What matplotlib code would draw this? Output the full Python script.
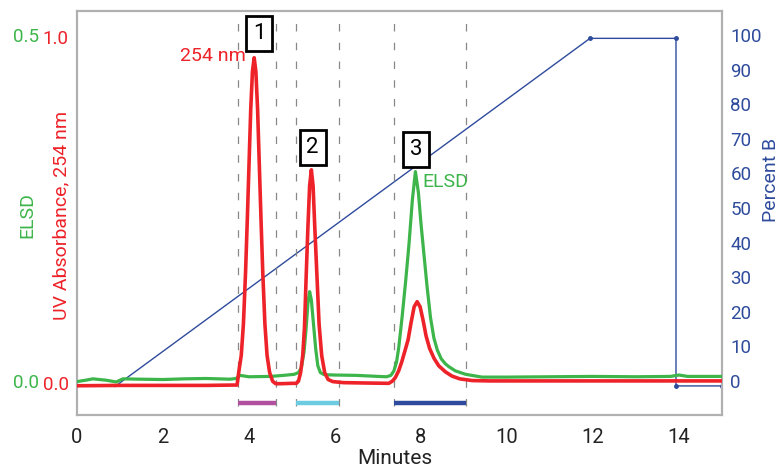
import matplotlib
matplotlib.use("Agg")
import matplotlib.pyplot as plt

plt.rcParams['font.family'] = ['Roboto', 'DejaVu Sans']

RED = '#ee2229'
GREEN = '#3db54a'
BLUE = '#2e4b9c'

# UV 254 nm trace (minutes, absorbance)
uv_t = [0, 1, 2, 3, 3.6, 3.72, 3.74, 3.76, 3.82, 3.87, 3.92, 3.96, 4.00, 4.04, 4.08, 4.12,
        4.16, 4.20, 4.24, 4.28, 4.32, 4.37, 4.42, 4.48, 4.55, 4.62, 4.75, 5.0,
        5.10, 5.15, 5.20, 5.25, 5.29, 5.33, 5.37, 5.41, 5.45, 5.49, 5.53, 5.58, 5.63,
        5.69, 5.76, 5.84, 5.95, 6.2, 6.7, 7.25,
        7.33, 7.40, 7.48, 7.55, 7.62, 7.70, 7.77, 7.84, 7.91, 7.98, 8.05, 8.12, 8.20,
        8.30, 8.41, 8.57, 8.72, 8.90, 9.19, 9.6, 11, 13, 15]
uv_v = [-0.008, -0.007, -0.007, -0.007, -0.006, -0.006, 0.01, 0.03, 0.08, 0.17, 0.32, 0.47, 0.63, 0.79, 0.90, 0.94,
        0.90, 0.79, 0.63, 0.47, 0.32, 0.17, 0.08, 0.03, 0.005, -0.002, -0.002, -0.001,
        -0.001, 0.005, 0.03, 0.08, 0.16, 0.31, 0.45, 0.57, 0.616, 0.57, 0.45, 0.31, 0.17,
        0.08, 0.03, 0.01, 0.004, 0.001, 0.0, -0.001,
        0.005, 0.015, 0.035, 0.06, 0.09, 0.125, 0.175, 0.22, 0.235, 0.22, 0.18, 0.135, 0.10,
        0.072, 0.05, 0.032, 0.02, 0.012, 0.007, 0.006, 0.006, 0.006, 0.006]

# ELSD trace (minutes, ELSD units; plotted against the 0-0.5 scale)
elsd_t = [0, 0.2, 0.37, 0.68, 0.91, 1.07, 1.46, 2.0, 2.5, 3.0, 3.56, 3.70, 3.79, 4.0, 4.5, 4.8,
          5.05, 5.15, 5.22, 5.28, 5.33, 5.37, 5.41, 5.45, 5.50, 5.55, 5.60, 5.66, 5.75,
          6.0, 6.5, 7.0, 7.2, 7.30, 7.37, 7.43, 7.48, 7.56, 7.64, 7.72, 7.80, 7.87, 7.94,
          8.00, 8.07, 8.14, 8.22, 8.30, 8.38, 8.47, 8.57, 8.65, 8.8, 9.04, 9.42, 10, 11,
          12, 13, 13.8, 14.0, 14.2, 15]
elsd_v = [0.002, 0.004, 0.006, 0.004, 0.0015, 0.006, 0.0055, 0.005, 0.006, 0.0065, 0.0055, 0.0065, 0.011, 0.009, 0.0095, 0.011,
          0.0125, 0.015, 0.0225, 0.045, 0.08, 0.115, 0.132, 0.12, 0.085, 0.05, 0.025, 0.015, 0.012,
          0.0115, 0.011, 0.0095, 0.009, 0.011, 0.0175, 0.03, 0.05, 0.095, 0.145, 0.20, 0.265, 0.3055, 0.275,
          0.23, 0.185, 0.14, 0.095, 0.065, 0.0475, 0.035, 0.0275, 0.0235, 0.0175, 0.0125, 0.0085, 0.0085, 0.009,
          0.0095, 0.009, 0.0095, 0.0115, 0.0095, 0.0095]

# gradient program (minutes, %B)
grad_t = [0.88, 11.93, 13.93, 13.93, 15]
grad_b = [-1.6, 99, 99, -1.4, -1.4]

# fraction windows
frac_start = [3.75, 5.09, 7.38]
frac_end = [4.62, 6.10, 9.04]
frac_colors = ['#b0509f', '#6ccbe0', '#2e4a9c']

peak_labels = ['1', '2', '3']
peak_t = [4.24, 5.48, 7.89]
peak_v = [1.01, 0.681, 0.675]

fig = plt.figure(figsize=(7.82, 4.69), dpi=100)
ax = fig.add_axes([77/782, 1 - 415/469, (722 - 77)/782, (415 - 11)/469])
ax2 = ax.twinx()
ax.set_zorder(ax2.get_zorder() + 1)
ax.patch.set_visible(False)

# dashed fraction boundaries and collection bars
for s, e, c in zip(frac_start, frac_end, frac_colors):
    for x in (s, e):
        ax.plot([x, x], [-0.066, 1.04], color='#888888', lw=0.9, dashes=(6, 9), zorder=1)
    ax.plot([s, e], [-0.058, -0.058], color=c, lw=3.2, solid_capstyle='butt', zorder=2)

ax.plot(elsd_t, [v * 2 for v in elsd_v], color=GREEN, lw=2.3, zorder=3)
ax.plot(uv_t, uv_v, color=RED, lw=2.6, zorder=4)

ax2.plot(grad_t, grad_b, color=BLUE, lw=1.0)
ax2.plot(grad_t[1:], grad_b[1:], 'o', color=BLUE, ms=2.5)

for lab, x, y in zip(peak_labels, peak_t, peak_v):
    ax.text(x, y, lab, fontsize=16, ha='center', va='center', zorder=6,
            bbox=dict(boxstyle='square,pad=0.3', fc='white', ec='black', lw=2))

ax.text(3.92, 0.945, '254 nm', color=RED, fontsize=14, ha='right', va='center')
ax.text(8.04, 0.58, 'ELSD', color=GREEN, fontsize=14, ha='left', va='center')

ax.set_xlim(0, 15)
ax.set_ylim(-0.0925, 1.075)
ax2.set_ylim(-9.8, 106.9)

ax.set_xticks(range(0, 15, 2))
ax.tick_params(axis='x', length=0, pad=9, labelsize=14.5, labelcolor='#222222')
ax.set_yticks([0, 1])
ax.set_yticklabels(['0.0', '1.0'])
ax.tick_params(axis='y', length=0, pad=6, labelsize=13.5, labelcolor=RED)
ax2.set_yticks(range(0, 101, 10))
ax2.tick_params(axis='y', length=0, pad=6, labelsize=13.5, labelcolor=BLUE)

for yv, lab in ((0, '0.0'), (1, '0.5')):
    ax.annotate(lab, xy=(0, yv), xycoords=('axes fraction', 'data'),
                xytext=(-27.5, 0), textcoords='offset points',
                ha='right', va='center', fontsize=13.5, color=GREEN)

for a in (ax, ax2):
    for sp in a.spines.values():
        sp.set_color('#b0b0b0')
        sp.set_linewidth(1.5)

fig.text(61/782, 1 - 215/469, 'UV Absorbance, 254 nm', color=RED, fontsize=14,
         rotation=90, ha='center', va='center')
fig.text(27/782, 1 - 215/469, 'ELSD', color=GREEN, fontsize=14,
         rotation=90, ha='center', va='center')
fig.text(771/782, 1 - 180/469, 'Percent B', color=BLUE, fontsize=14,
         rotation=90, ha='center', va='center')
fig.text(395/782, 1 - 458/469, 'Minutes', color='#222222', fontsize=15,
         ha='center', va='center')

fig.savefig('out.png', dpi=100)
